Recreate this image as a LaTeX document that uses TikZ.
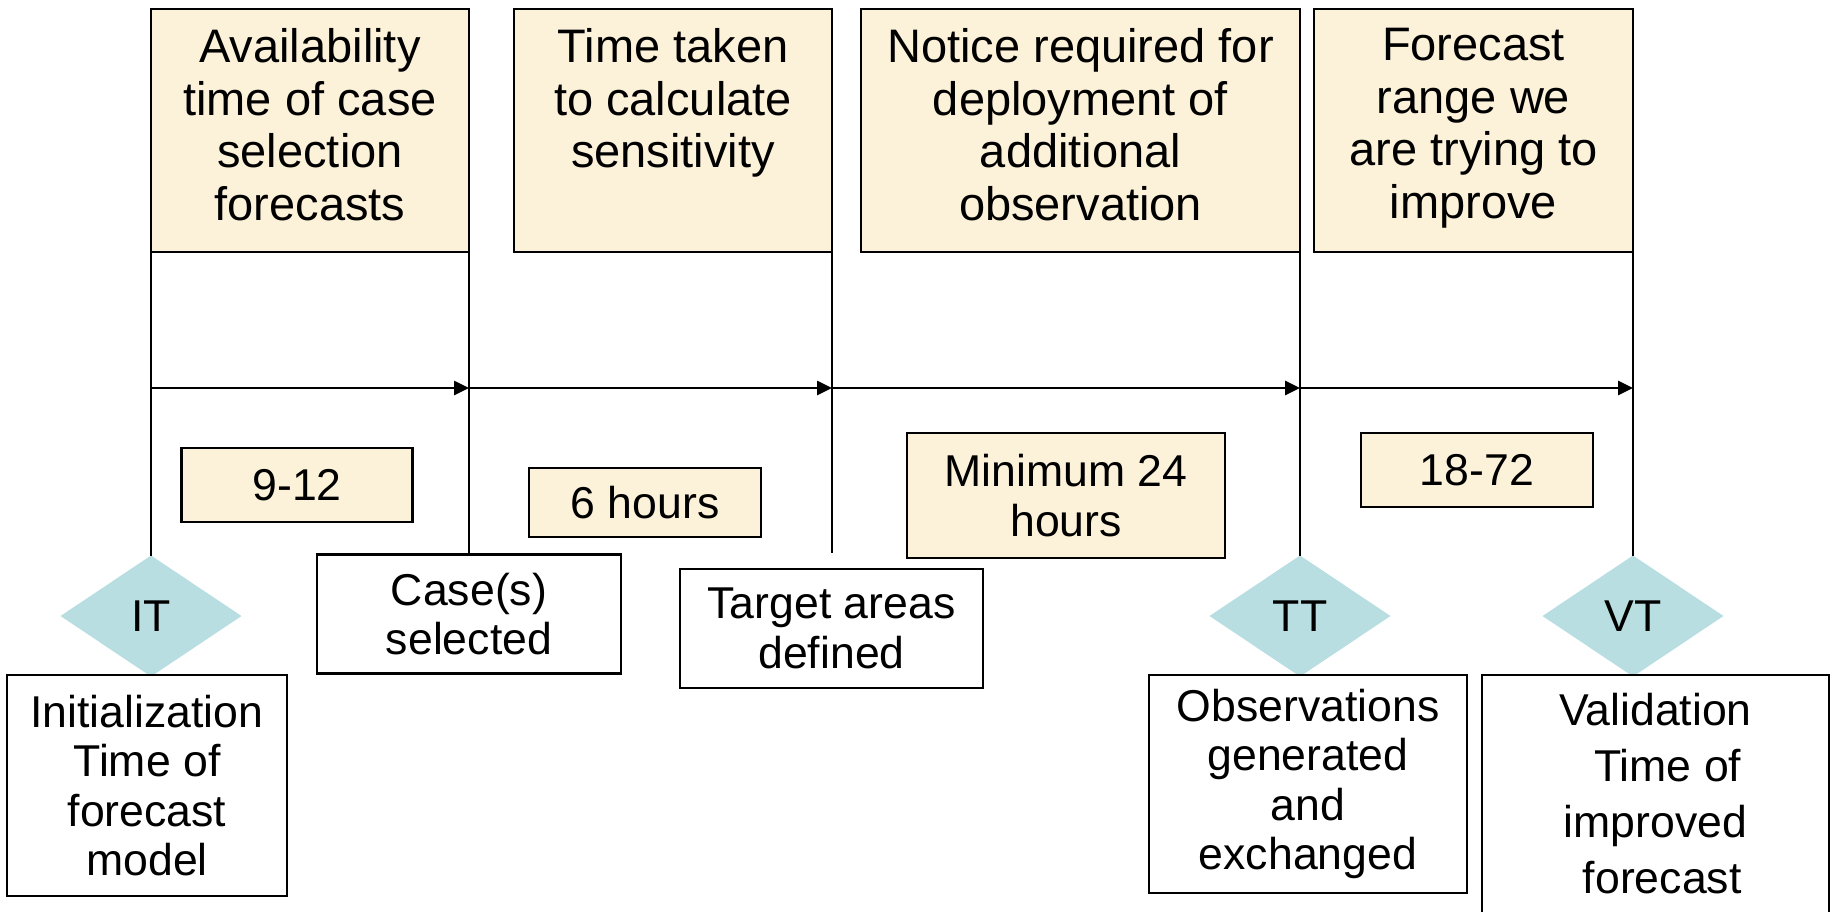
\documentclass[tikz,border=0pt]{standalone}
\usepackage{fontspec}
\setmainfont{Liberation Sans}
\usetikzlibrary{shapes.geometric}
\usetikzlibrary{arrows.meta}
\definecolor{parchment}{RGB}{252,241,217}
\definecolor{marktone}{RGB}{184,222,225}

\begin{document}
\begin{tikzpicture}[x=0.5pt,y=0.5pt,yscale=-1,
  topbox/.style={draw=black,line width=1.2pt,fill=parchment,inner sep=0pt,outer sep=0pt},
  toptext/.style={anchor=north,inner sep=0pt,align=center,font=\fontsize{23.5}{26.3}\selectfont},
  spanbox/.style={draw=black,line width=1.2pt,fill=parchment,inner sep=0pt,outer sep=0pt,align=center,font=\fontsize{22.3}{24.7}\selectfont},
  eventbox/.style={draw=black,line width=1.2pt,fill=white,inner sep=0pt,outer sep=0pt,align=center,font=\fontsize{22.3}{24.7}\selectfont},
  marktime/.style={diamond,fill=marktone,inner sep=0pt,outer sep=0pt,minimum width=90.5pt,minimum height=60.5pt,font=\fontsize{22.3}{24.7}\selectfont},
  tick/.style={line width=1.1pt},
  timeline/.style={line width=1.3pt,-{Triangle[length=7.5pt,width=7pt]}}]
%set diagram to 1831 x 911
\useasboundingbox (0,0) rectangle (1831,911);
\clip (0,0) rectangle (1831,911);

%Shape: Rectangle [top row]
\node (tb1) [topbox,minimum width=159pt,minimum height=121.5pt] at (310,130.5) {};
\node (tb2) [topbox,minimum width=159pt,minimum height=121.5pt] at (673,130.5) {};
\node (tb3) [topbox,minimum width=219.5pt,minimum height=121.5pt] at (1080.5,130.5) {};
\node (tb4) [topbox,minimum width=159.5pt,minimum height=121.5pt] at (1473.5,130.5) {};
% Text Node
\node (tb1text) [toptext] at (310,28) {Availability\\time of case\\selection\\forecasts};
% Text Node
\node (tb2text) [toptext] at (673,28) {Time taken\\to calculate\\sensitivity};
% Text Node
\node (tb3text) [toptext] at (1080.5,28) {Notice required for\\deployment of\\additional\\observation};
% Text Node
\node (tb4text) [toptext] at (1473.5,28) {Forecast\\range we\\are trying to\\improve};

%Shape: Diamond
\node (it) [marktime] at (151,616) {IT};
\node (tt) [marktime] at (1300,616) {TT};
\node (vt) [marktime] at (1633,616) {VT};

%Shape: Rectangle [events]
\node (init) [eventbox,minimum width=140pt,minimum height=110.5pt] at (147,785.5) {Initialization\\Time of\\forecast\\model};
\node (case) [eventbox,minimum width=152pt,minimum height=59.5pt] at (469,614) {Case(s)\\selected};
\node (target) [eventbox,minimum width=151.5pt,minimum height=59.5pt] at (831.5,628.5) {Target areas\\defined};
\node (obs) [eventbox,minimum width=159pt,minimum height=109pt] at (1308,784) {Observations\\generated\\and\\exchanged};
\node (valid) [eventbox,minimum width=173.5pt,minimum height=152.5pt] at (1655.5,827.5) {};
% Text Node
\node (validtext) [anchor=north,inner sep=0pt,align=center,font=\fontsize{22.3}{28}\selectfont] at (1655.5,693) {Validation\\\hspace*{0.55em}Time of\\improved\\\hspace*{0.3em}forecast};

%Shape: Rectangle [spans]
\node (span912) [spanbox,minimum width=115.5pt,minimum height=37pt] at (297,485) {9-12};
\node (span6h) [spanbox,minimum width=116pt,minimum height=34.5pt] at (645,502.5) {6 hours};
\node (span24) [spanbox,minimum width=159pt,minimum height=62.5pt] at (1066,495.5) {Minimum 24\\hours};
\node (span1872) [spanbox,minimum width=116pt,minimum height=37pt] at (1477,470) {18-72};

%Straight Lines [verticals]
\coordinate (tgtend) at (832,553);
\draw [tick] (tb1.south west) -- (it.north);
\draw [tick] (tb1.south east) -- (case.north);
\draw [tick] (tb2.south east) -- (tgtend);
\draw [tick] (tb3.south east) -- (tt.north);
\draw [tick] (tb4.south east) -- (vt.north);

%Straight Lines [time axis]
\coordinate (t0) at (151,388);
\coordinate (t1) at (469,388);
\coordinate (t2) at (832,388);
\coordinate (t3) at (1300,388);
\coordinate (t4) at (1633,388);
\draw [timeline] (t0) -- (t1);
\draw [timeline] (t1) -- (t2);
\draw [timeline] (t2) -- (t3);
\draw [timeline] (t3) -- (t4);

\end{tikzpicture}
\end{document}
